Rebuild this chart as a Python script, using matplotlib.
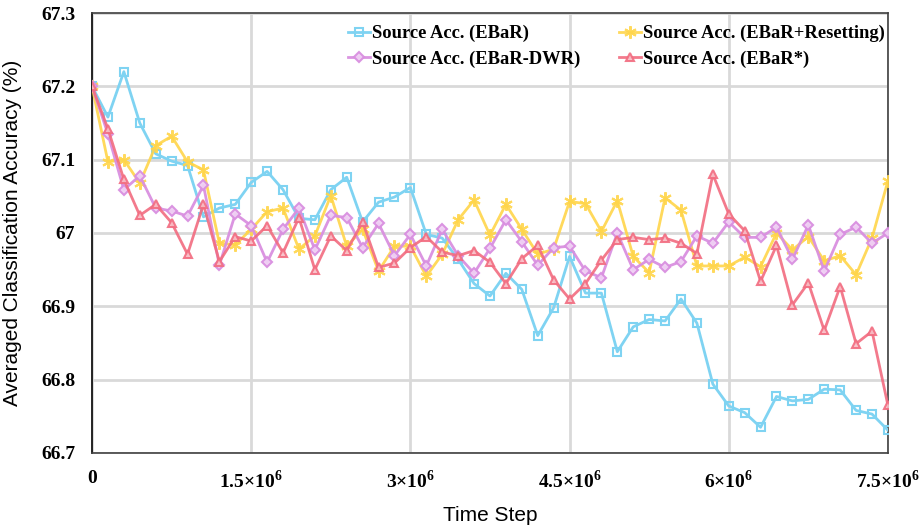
import matplotlib
matplotlib.use('Agg')
import matplotlib.pyplot as plt
import numpy as np

plt.rcParams['mathtext.fontset'] = 'custom'
plt.rcParams['mathtext.rm'] = 'Liberation Serif:bold'
plt.rcParams['mathtext.bf'] = 'Liberation Serif:bold'

steps = np.arange(51) * 150000

ebar = [67.200, 67.158, 67.220, 67.150, 67.108, 67.098, 67.092, 67.022, 67.034, 67.039,
        67.069, 67.084, 67.059, 67.020, 67.018, 67.059, 67.076, 67.015, 67.042, 67.049,
        67.062, 66.998, 66.993, 66.964, 66.931, 66.914, 66.945, 66.923, 66.860, 66.898,
        66.968, 66.918, 66.918, 66.838, 66.872, 66.882, 66.880, 66.910, 66.877, 66.794,
        66.764, 66.755, 66.735, 66.777, 66.771, 66.773, 66.787, 66.786, 66.758, 66.753,
        66.731]
resetting = [67.200, 67.097, 67.100, 67.068, 67.119, 67.132, 67.097, 67.086, 66.986, 66.984,
             67.005, 67.029, 67.034, 66.978, 66.996, 67.051, 66.982, 67.005, 66.948, 66.982,
             66.982, 66.941, 66.971, 67.018, 67.045, 66.997, 67.039, 67.005, 66.971, 66.978,
             67.043, 67.040, 67.002, 67.044, 66.968, 66.946, 67.048, 67.031, 66.955, 66.955,
             66.955, 66.967, 66.954, 67.000, 66.977, 66.995, 66.962, 66.969, 66.943, 66.993,
             67.071]
dwr = [67.200, 67.135, 67.059, 67.078, 67.034, 67.030, 67.023, 67.065, 66.956, 67.026,
       67.010, 66.960, 67.005, 67.034, 66.977, 67.024, 67.021, 66.980, 67.013, 66.969,
       66.998, 66.955, 67.005, 66.969, 66.945, 66.979, 67.018, 66.988, 66.956, 66.980,
       66.982, 66.948, 66.939, 67.000, 66.950, 66.964, 66.953, 66.961, 66.996, 66.986,
       67.015, 66.994, 66.994, 67.008, 66.964, 67.011, 66.948, 66.998, 67.008, 66.986,
       67.000]
ebar_star = [67.200, 67.142, 67.073, 67.024, 67.039, 67.014, 66.971, 67.039, 66.961, 66.995,
             66.989, 67.010, 66.973, 67.021, 66.950, 66.996, 66.976, 67.015, 66.953, 66.959,
             66.980, 66.995, 66.974, 66.969, 66.976, 66.960, 66.931, 66.965, 66.983, 66.936,
             66.910, 66.931, 66.963, 66.991, 66.994, 66.991, 66.993, 66.986, 66.972, 67.080,
             67.026, 67.003, 66.934, 66.983, 66.902, 66.932, 66.867, 66.927, 66.849, 66.866,
             66.765]

xticks = [0, 1.5e6, 3e6, 4.5e6, 6e6, 7.5e6]
xticklabels = ['0', r'$1.5{\times}10^{6}$', r'$3{\times}10^{6}$', r'$4.5{\times}10^{6}$',
               r'$6{\times}10^{6}$', r'$7.5{\times}10^{6}$']
yticks = [66.7, 66.8, 66.9, 67.0, 67.1, 67.2, 67.3]
yticklabels = ['66.7', '66.8', '66.9', '67', '67.1', '67.2', '67.3']

fig = plt.figure(figsize=(9.23, 5.31), dpi=100)
ax = fig.add_axes([0.0997, 0.147, 0.8623, 0.8285])

ax.plot(steps, ebar, color='#7fd3f2', lw=2, marker='s', ms=6, mfc='none', mew=1.5,
        label='Source Acc. (EBaR)', zorder=3)
ax.plot(steps, dwr, color='#d98fe0', lw=2, marker='D', ms=5, mfc='#f0d0f4', mew=1.5,
        label='Source Acc. (EBaR-DWR)', alpha=0.95, zorder=4)
ax.plot(steps, resetting, color='#ffd54a', lw=2, marker=(6, 2, 0), ms=9, mew=1.5,
        label='Source Acc. (EBaR+Resetting)', alpha=0.9, zorder=3)
ax.plot(steps, ebar_star, color='#f26c80', lw=2, marker='^', ms=6, mfc='#f9c0c8', mew=1.5,
        label='Source Acc. (EBaR*)', alpha=0.9, zorder=5)

ax.set_xlim(0, 7.5e6)
ax.set_ylim(66.7, 67.3)
ax.set_xticks(xticks)
ax.set_xticklabels(xticklabels, family=['Liberation Serif', 'DejaVu Serif'],
                   fontweight='bold', fontsize=14)
ax.set_yticks(yticks)
ax.set_yticklabels(yticklabels, family=['Liberation Serif', 'DejaVu Serif'],
                   fontweight='bold', fontsize=14)
ax.tick_params(length=0, pad=12)
ax.grid(color='#d9d9d9', lw=2)
ax.set_axisbelow(True)
for s in ax.spines.values():
    s.set_color('#404040')
    s.set_linewidth(1.2)
ax.spines['left'].set_color('black')

ax.set_xlabel('Time Step', family='Liberation Sans', fontsize=15, labelpad=10)
ax.set_ylabel('Averaged Classification Accuracy (%)', family='Liberation Sans',
              fontsize=15, labelpad=14)

ax.legend(ncol=2, loc='upper right', bbox_to_anchor=(1.011, 1.0), frameon=False,
          prop={'family': 'Liberation Serif', 'weight': 'bold', 'size': 13.3},
          handlelength=1.2, handletextpad=0.1, columnspacing=2.1, labelspacing=0.45,
          borderaxespad=0.25)

fig.savefig('out.png', dpi=100)
